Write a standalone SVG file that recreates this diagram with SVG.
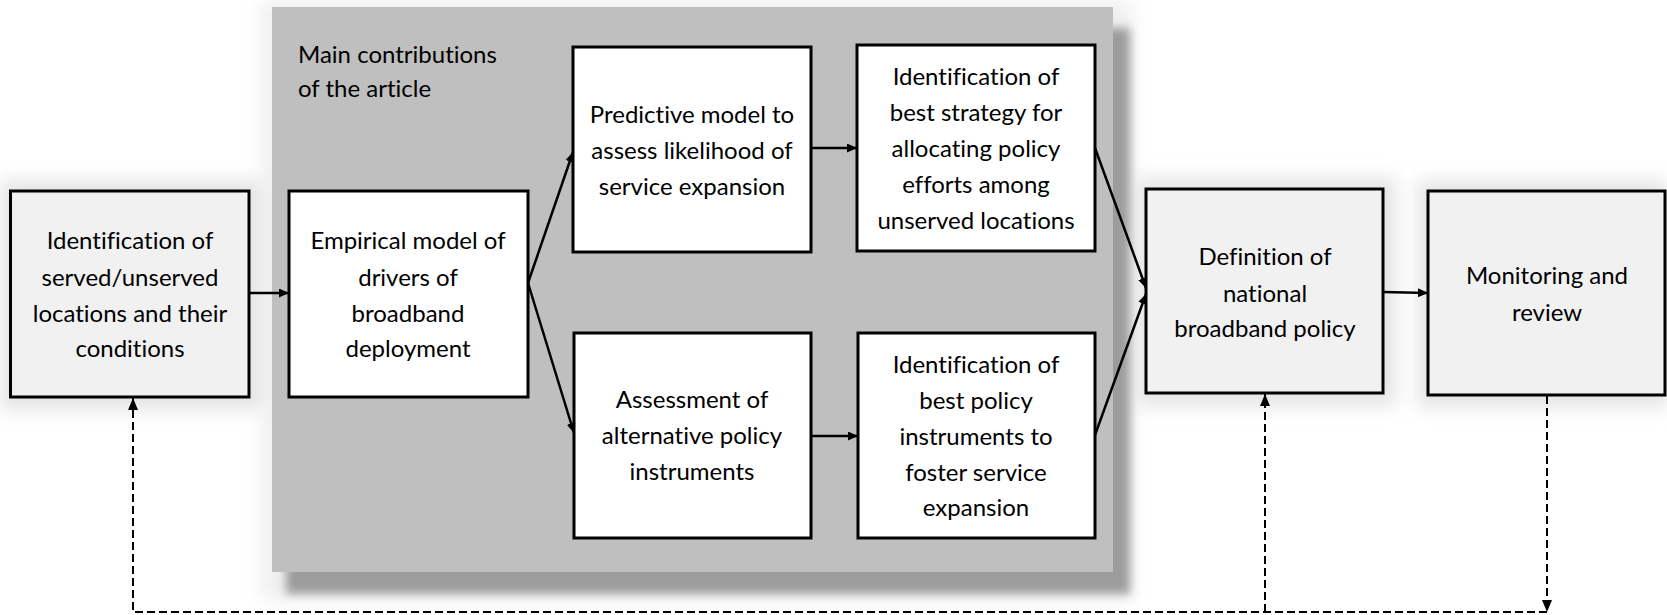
<svg xmlns="http://www.w3.org/2000/svg" width="1667" height="615" viewBox="0 0 1667 615">
  <defs>
    <filter id="soft" x="-20%" y="-20%" width="140%" height="140%">
      <feGaussianBlur stdDeviation="9"/>
    </filter>
    <filter id="drop" x="-10%" y="-10%" width="120%" height="120%">
      <feGaussianBlur stdDeviation="5"/>
    </filter>
    <marker id="arrow" markerUnits="userSpaceOnUse" markerWidth="10" markerHeight="9" refX="10" refY="4.5" orient="auto">
      <path d="M0,0 L10,4.5 L0,9 z" fill="#000"/>
    </marker>
    <marker id="arrowDash" markerUnits="userSpaceOnUse" markerWidth="12" markerHeight="10" refX="12" refY="5" orient="auto">
      <path d="M0,0 L12,5 L0,10 z" fill="#000"/>
    </marker>
  </defs>
  <style>
    .lbl { font-family: Lato, "Liberation Sans", sans-serif; font-size: 24px; fill: #000; text-anchor: middle; font-variant-ligatures: none; }
    .title { font-family: Lato, "Liberation Sans", sans-serif; font-size: 24px; fill: #000; font-variant-ligatures: none; }
    .box { fill: #fff; stroke: #000; stroke-width: 3; }
    .outer { fill: #f1f1f1; stroke: #000; stroke-width: 3; }
    .halo { fill: #e4e4e4; filter: url(#soft); }
    .link { fill: none; stroke: #000; stroke-width: 2.5; marker-end: url(#arrow); }
    .dash { fill: none; stroke: #000; stroke-width: 2; stroke-dasharray: 8 4; }
  </style>

  <rect width="1667" height="615" fill="#fff"/>

  <!-- soft halos behind the outer boxes and the panel -->
  <g id="halos">
    <rect class="halo" x="0" y="180" width="262" height="230"/>
    <rect class="halo" x="1136" y="178" width="260" height="228"/>
    <rect class="halo" x="1418" y="180" width="249" height="228"/>
    <rect class="halo" x="262" y="0" width="870" height="600" opacity="0.6"/>
  </g>

  <!-- shaded panel holding the article's contributions -->
  <g id="panel">
    <rect x="286" y="28" width="844" height="566" fill="#9c9c9c" filter="url(#drop)"/>
    <rect x="272" y="7" width="841" height="565" fill="#bfbfbf"/>
    <text class="title" x="298" y="63">Main contributions</text>
    <text class="title" x="298" y="97">of the article</text>
  </g>

  <g id="identification">
    <rect class="outer" x="10.5" y="191" width="238.5" height="206"/>
    <text class="lbl" x="130" y="249">Identification of</text>
    <text class="lbl" x="130" y="286">served/unserved</text>
    <text class="lbl" x="130" y="322">locations and their</text>
    <text class="lbl" x="130" y="357">conditions</text>
  </g>

  <g id="empirical">
    <rect class="box" x="289" y="191" width="239" height="206"/>
    <text class="lbl" x="408" y="249">Empirical model of</text>
    <text class="lbl" x="408" y="286">drivers of</text>
    <text class="lbl" x="408" y="322">broadband</text>
    <text class="lbl" x="408" y="357">deployment</text>
  </g>

  <g id="predictive">
    <rect class="box" x="573" y="47" width="238" height="205"/>
    <text class="lbl" x="692" y="123">Predictive model to</text>
    <text class="lbl" x="692" y="159">assess likelihood of</text>
    <text class="lbl" x="692" y="195">service expansion</text>
  </g>

  <g id="strategy">
    <rect class="box" x="857" y="45" width="238" height="206"/>
    <text class="lbl" x="976" y="85">Identification of</text>
    <text class="lbl" x="976" y="121">best strategy for</text>
    <text class="lbl" x="976" y="157">allocating policy</text>
    <text class="lbl" x="976" y="193">efforts among</text>
    <text class="lbl" x="976" y="229">unserved locations</text>
  </g>

  <g id="assessment">
    <rect class="box" x="574" y="333" width="237" height="205"/>
    <text class="lbl" x="692" y="408">Assessment of</text>
    <text class="lbl" x="692" y="444">alternative policy</text>
    <text class="lbl" x="692" y="480">instruments</text>
  </g>

  <g id="instruments">
    <rect class="box" x="858" y="333" width="237" height="205"/>
    <text class="lbl" x="976" y="373">Identification of</text>
    <text class="lbl" x="976" y="409">best policy</text>
    <text class="lbl" x="976" y="445">instruments to</text>
    <text class="lbl" x="976" y="481">foster service</text>
    <text class="lbl" x="976" y="516">expansion</text>
  </g>

  <g id="definition">
    <rect class="outer" x="1146" y="189" width="237" height="204"/>
    <text class="lbl" x="1265" y="265">Definition of</text>
    <text class="lbl" x="1265" y="302">national</text>
    <text class="lbl" x="1265" y="337">broadband policy</text>
  </g>

  <g id="monitoring">
    <rect class="outer" x="1428" y="191" width="237" height="204"/>
    <text class="lbl" x="1547" y="284">Monitoring and</text>
    <text class="lbl" x="1547" y="321">review</text>
  </g>

  <g id="connectors">
    <line class="link" x1="249" y1="293" x2="289" y2="293"/>
    <line class="link" x1="528" y1="283" x2="573" y2="152"/>
    <line class="link" x1="528" y1="283" x2="574" y2="433"/>
    <line class="link" x1="811" y1="148" x2="857" y2="148"/>
    <line class="link" x1="811" y1="436" x2="858" y2="436"/>
    <line class="link" x1="1095" y1="148" x2="1146" y2="288"/>
    <line class="link" x1="1095" y1="435" x2="1146" y2="294"/>
    <line class="link" x1="1383" y1="292" x2="1428" y2="293"/>

    <!-- feedback loop -->
    <path class="dash" d="M1547,396 V612" marker-end="url(#arrowDash)"/>
    <path class="dash" d="M1547,612 H133 V398" marker-end="url(#arrowDash)"/>
    <path class="dash" d="M1265,612 V394" marker-end="url(#arrowDash)"/>
  </g>
</svg>
